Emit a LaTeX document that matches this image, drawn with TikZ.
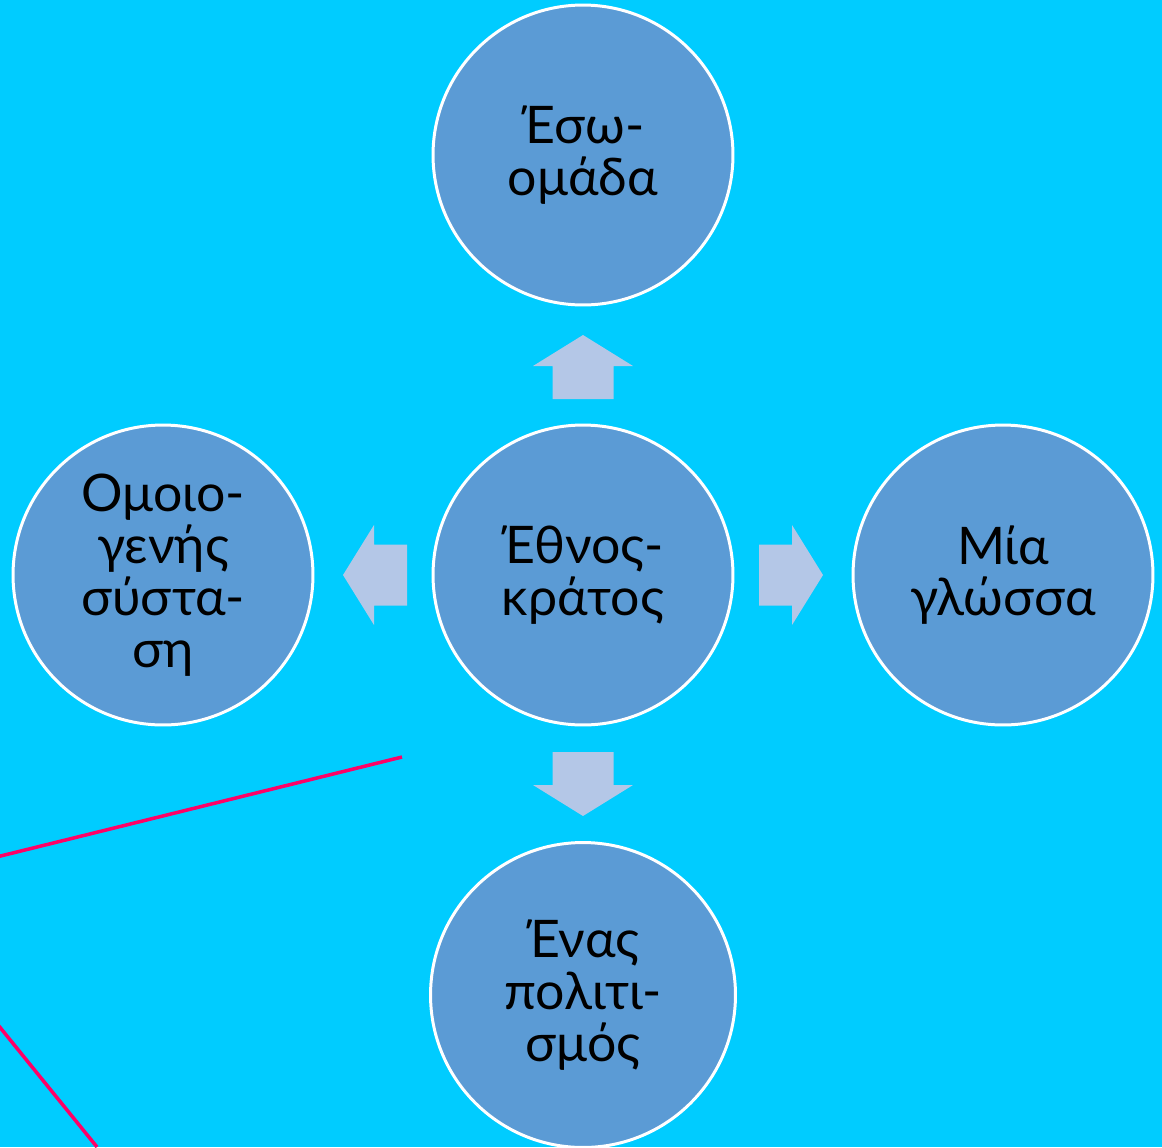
\documentclass[tikz,border=0pt]{standalone}
\usepackage{fontspec}
\setmainfont{Lato}
\definecolor{bgcyan}{HTML}{00CCFF}
\definecolor{discblue}{HTML}{5B9BD5}
\definecolor{arrowfill}{HTML}{B4C7E7}
\definecolor{linepink}{HTML}{FF0066}
\tikzset{
  disc/.style={circle, fill=discblue, draw=white, line width=1.7pt,
    minimum size=6cm, inner sep=0pt, align=center,
    font=\fontsize{29.5}{29.5}\selectfont},
  blockarrow/.pic={
    \fill[arrowfill] (0,-30.5) -- (33,-30.5) -- (33,-50) -- (64,0)
      -- (33,50) -- (33,30.5) -- (0,30.5) -- cycle;}
}
\begin{document}
\begin{tikzpicture}[x=0.02cm, y=-0.02cm]
    % Fondo
    \fill[bgcyan] (0,0) rectangle (1162,1147);
    \useasboundingbox (0,0) rectangle (1162,1147);

    % Lineas rosas
    \begin{scope}
      \clip (0,0) rectangle (1162,1147);
      \coordinate (pinkA) at (402,757);
      \coordinate (pinkB) at (-40,866);
      \coordinate (pinkC) at (-40,978);
      \coordinate (pinkD) at (97,1147);
      \draw[linepink, line width=2pt] (pinkA) -- (pinkB);
      \draw[linepink, line width=2pt] (pinkC) -- (pinkD);
    \end{scope}

    % Circulos
    \node[disc] (estado) at (583,575) {Έθνος-\\κράτος};
    \node[disc] (eso) at (583,155) {Έσω-\\ομάδα};
    \node[disc] (homo) at (163,575) {Ομοιο-\\γενής\\σύστα-\\ση};
    \node[disc] (lengua) at (1003,575) {Μία\\γλώσσα};
    \node[disc, minimum size=6.1cm] (cultura) at (583,995) {Ένας\\πολιτι-\\σμός};

    % Flechas
    \pic[rotate=90] at (583,399) {blockarrow};
    \pic[rotate=-90] at (583,752) {blockarrow};
    \pic[rotate=180] at (407,575) {blockarrow};
    \pic at (759,575) {blockarrow};
\end{tikzpicture}
\end{document}
